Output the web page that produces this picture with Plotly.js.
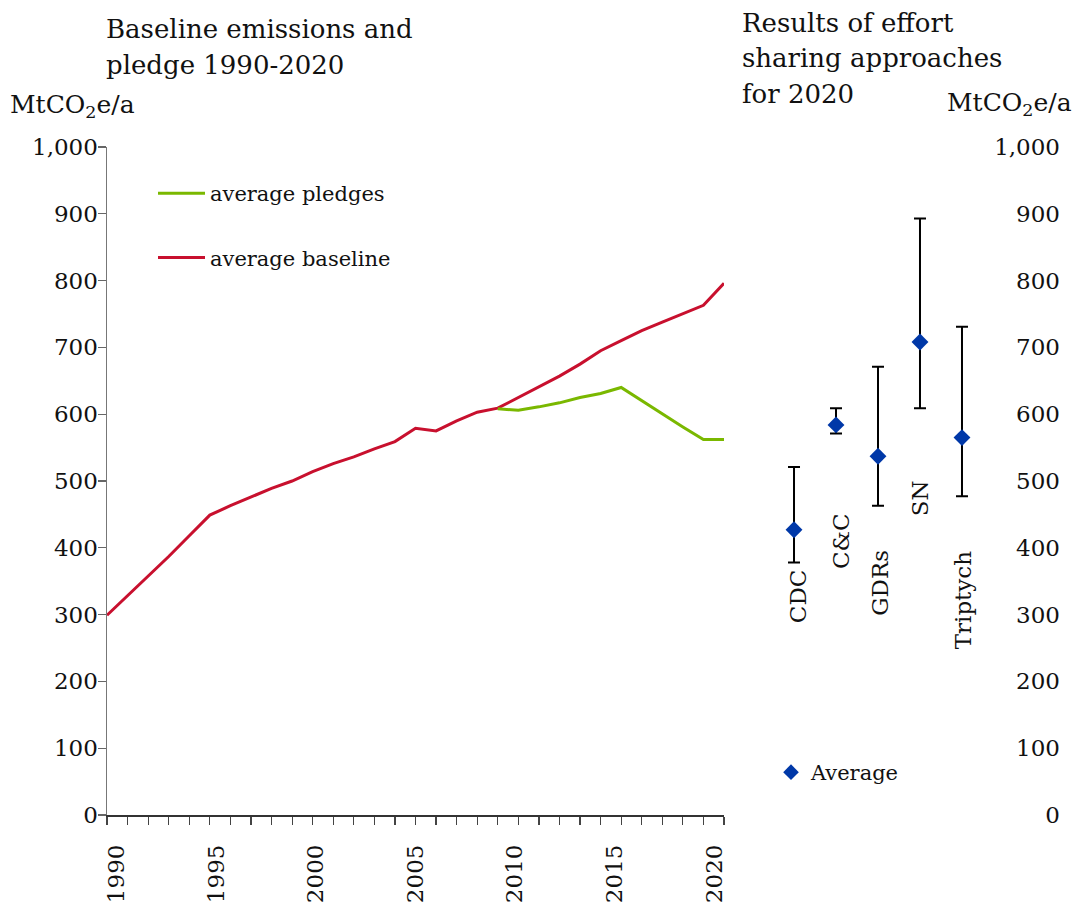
<!DOCTYPE html>
<html><head><meta charset="utf-8">
<script src="https://cdn.plot.ly/plotly-3.0.1.min.js"></script>
<style>html,body{margin:0;padding:0;background:#fff}#chart{width:1076px;height:910px}</style>
</head><body><div id="chart"></div>
<script>
// ---------------- data ----------------
const years = [1990,1991,1992,1993,1994,1995,1996,1997,1998,1999,2000,2001,2002,2003,2004,2005,2006,2007,2008,2009,2010,2011,2012,2013,2014,2015,2016,2017,2018,2019,2020];
const baseline = [299,328,357,387,418,449,463,476,489,500,514,526,536,548,559,579,575,590,603,609,625,641,657,675,695,710,725,738,751,763,796];
const pledgeYears = [2009,2010,2011,2012,2013,2014,2015,2016,2017,2018,2019,2020];
const pledges = [608,606,611,617,625,631,640,620,601,581,562,562];
const approaches = ['CDC','C&C','GDRs','SN','Triptych'];
const approachAvg  = [427,584,537,708,565];
const approachHigh = [521,609,671,893,731];
const approachLow  = [378,571,463,609,477];
const yTickVals = [0,100,200,300,400,500,600,700,800,900,1000];
const xLabelYears = [1990,1995,2000,2005,2010,2015,2020];

// ---------------- layout helpers ----------------
const FONT = 'DejaVu Serif';
const L = 107, R = 1060, T = 147, B = 815;
const px = v => (v - L) / (R - L);
const py = v => (B - v) / (B - T);

const traces = [
  {x: years, y: baseline, type:'scatter', mode:'lines', name:'average baseline',
   line:{color:'#c8102e', width:3}, xaxis:'x', yaxis:'y', legend:'legend', legendgroup:'b', legendrank:2},
  {x: pledgeYears, y: pledges, type:'scatter', mode:'lines', name:'average pledges',
   line:{color:'#7ab800', width:3}, xaxis:'x', yaxis:'y', legend:'legend', legendgroup:'p', legendrank:1},
  {x: approaches, y: approachAvg, type:'scatter', mode:'markers', name:'Average',
   marker:{symbol:'diamond', size:13, color:'#0038a8'},
   error_y:{type:'data', symmetric:false,
     array: approachHigh.map((h,i)=>h-approachAvg[i]),
     arrayminus: approachAvg.map((a,i)=>a-approachLow[i]),
     color:'#000', thickness:2, width:6},
   xaxis:'x2', yaxis:'y', legend:'legend2'},
  {x: [], y: [], type:'scatter', mode:'markers', showlegend:false, xaxis:'x2', yaxis:'y3'},
  {x: [], y: [], type:'scatter', mode:'markers', showlegend:false, xaxis:'x3', yaxis:'y'}
];

const labelTopY = [371, 455, 400, 504, 400];
const labelShift = [4, 5, 2, 0, 1];
const catAnn = approaches.map((c,i)=>({
  xref:'x2', yref:'y', x:c, y:labelTopY[i], text:c.replace('&','&amp;'), textangle:-90,
  showarrow:false, xanchor:'center', yanchor:'top', xshift:labelShift[i],
  font:{family:FONT, size:23, color:'#111'}
}));

function textAnn(text, xPix, baselinePix, size){
  return {xref:'paper', yref:'paper', x:px(xPix), y:py(baselinePix - size*0.34), text:text,
    showarrow:false, xanchor:'left', yanchor:'middle', borderpad:0,
    font:{family:FONT, size:size, color:'#111'}};
}

const annotations = [
  textAnn('Baseline emissions and', 105, 38, 26),
  textAnn('pledge 1990-2020', 105, 74, 26),
  textAnn('Results of effort', 741, 32, 26),
  textAnn('sharing approaches', 741, 67, 26),
  textAnn('for 2020', 741, 103, 26),
  textAnn('MtCO<sub>2</sub>e/a', 9, 115, 25),
  textAnn('MtCO<sub>2</sub>e/a', 946, 112, 25),
  ...catAnn
];

const axisFont = {family:FONT, size:23, color:'#111'};

const layout = {
  width:1076, height:910,
  margin:{l:L, r:1076-R, t:T, b:910-B, pad:0},
  paper_bgcolor:'#fff', plot_bgcolor:'rgba(0,0,0,0)',
  font:{family:FONT, color:'#111'},
  showlegend:true,
  xaxis:{domain:[0, px(724)], range:[1990,2020], tickvals:xLabelYears, showticklabels:false,
    ticks:'outside', ticklen:8, tickcolor:'#444', tickwidth:1.2,
    minor:{dtick:1, ticks:'outside', ticklen:8, tickcolor:'#444', tickwidth:1.2, showgrid:false},
    showline:true, linecolor:'#333', linewidth:1.5, showgrid:false, zeroline:false,
    anchor:'y', automargin:false},
  xaxis3:{overlaying:'x', anchor:'y', range:[1989.5,2020.5], tickvals:xLabelYears,
    ticktext:xLabelYears.map(String), ticks:'', showline:false, showgrid:false, zeroline:false,
    tickangle:-90, tickfont:axisFont, ticklabelstandoff:24, automargin:false},
  yaxis:{domain:[0,1], range:[0,1000], tickvals:yTickVals, tickformat:',', ticks:'outside', ticklen:8,
    tickcolor:'#666', tickwidth:1.2, showline:true, linecolor:'#777', linewidth:1.5,
    showgrid:false, zeroline:false, tickfont:axisFont, anchor:'x', automargin:false,
    ticklabelstandoff:-5},
  xaxis2:{domain:[px(740), px(990)], range:[-1.286, 4.667], type:'category', visible:false,
    anchor:'y', automargin:false},
  yaxis2:{overlaying:'y', anchor:'x2', side:'right', range:[0,1000], tickvals:yTickVals,
    ticks:'inside', ticklen:9, tickcolor:'#333', tickwidth:1.2, showticklabels:false,
    showline:true, linecolor:'#222', linewidth:1.5, showgrid:false, zeroline:false, automargin:false},
  yaxis3:{overlaying:'y', anchor:'free', position:1, side:'left', range:[0,1000], tickvals:yTickVals,
    tickformat:',', ticks:'', showline:false, showgrid:false, zeroline:false, tickfont:axisFont,
    automargin:false},
  legend:{x:px(153), xanchor:'left', y:py(173), yanchor:'top', bgcolor:'rgba(0,0,0,0)',
    font:{family:FONT, size:21, color:'#111'}, tracegroupgap:34, traceorder:'grouped',
    itemwidth:47},
  legend2:{x:px(771), xanchor:'left', y:py(752), yanchor:'top', bgcolor:'rgba(0,0,0,0)',
    font:{family:FONT, size:21, color:'#111'}, itemsizing:'constant'},
  annotations: annotations
};

Plotly.newPlot('chart', traces, layout, {displayModeBar:false, staticPlot:true});
</script></body></html>
